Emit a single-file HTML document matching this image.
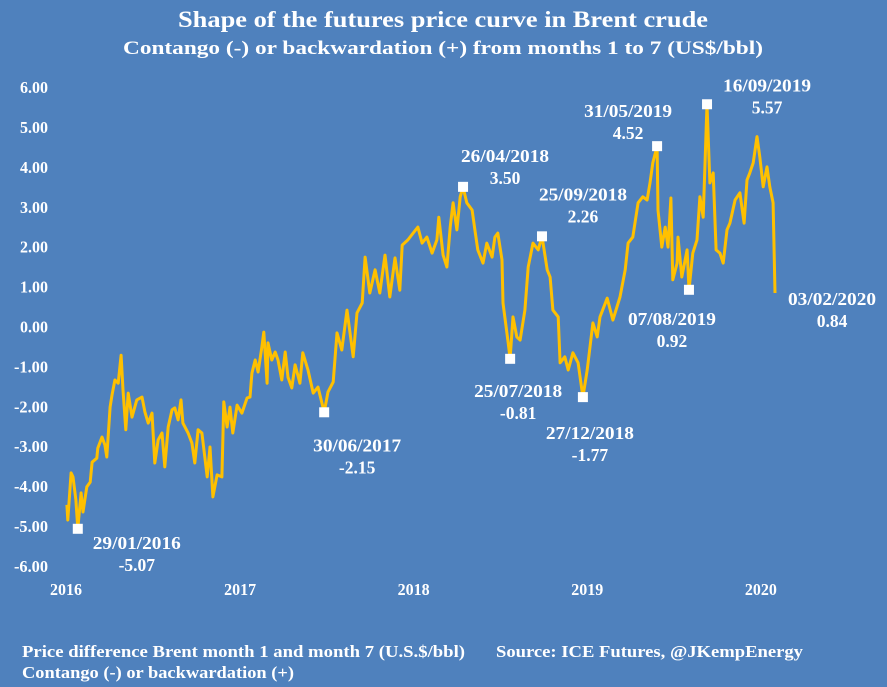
<!DOCTYPE html>
<html><head><meta charset="utf-8">
<style>
html,body{margin:0;padding:0;background:#4F81BD;}
svg{display:block;font-family:"Liberation Serif",serif;font-weight:bold;fill:#fff;}
</style></head>
<body>
<svg id="chart" width="887" height="687" viewBox="0 0 887 687">
<rect width="887" height="687" fill="#4F81BD"/>
<text x="443" y="27" text-anchor="middle" font-size="23" textLength="530" lengthAdjust="spacingAndGlyphs">Shape of the futures price curve in Brent crude</text>
<text x="443" y="54" text-anchor="middle" font-size="19" textLength="640" lengthAdjust="spacingAndGlyphs">Contango (-) or backwardation (+) from months 1 to 7 (US$/bbl)</text>
<g id="yaxis"></g>
<g id="xaxis"></g>
<path id="line" fill="none" stroke="#FFC000" stroke-width="3" stroke-linejoin="round"/>
<g id="annot"></g>
<text x="22" y="657" font-size="16.5" textLength="443" lengthAdjust="spacingAndGlyphs">Price difference Brent month  1 and month 7 (U.S.$/bbl)</text>
<text x="496" y="657" font-size="16.5" textLength="307" lengthAdjust="spacingAndGlyphs">Source:  ICE Futures, @JKempEnergy</text>
<text x="22" y="678" font-size="16.5" textLength="272" lengthAdjust="spacingAndGlyphs">Contango (-) or backwardation (+)</text>
</svg>
<script>
// days since 2016-01-01
const days = [6,8,15,19,25,29,36,40,48,55,59,69,71,80,86,90,97,101,107,114,120,124,130,135,143,153,164,170,177,185,191,198,206,212,219,227,233,240,246,250,261,269,275,282,290,301,307,313,322,332,336,343,349,355,364,374,385,391,395,402,408,416,420,427,429,437,444,450,458,465,471,479,486,496,502,513,524,534,547,555,566,574,584,595,608,616,627,633,643,654,664,675,685,696,706,711,723,734,744,753,763,774,784,788,797,805,812,818,826,833,839,847,858,864,870,881,889,900,906,912,921,923,934,938,944,952,959,969,976,986,997,1005,1016,1022,1028,1039,1043,1053,1060,1070,1081,1091,1100,1112,1121,1127,1142,1154,1169,1180,1186,1196,1207,1217,1226,1232,1238,1247,1249,1257,1264,1270,1276,1280,1289,1291,1299,1310,1314,1322,1331,1337,1344,1352,1358,1365,1371,1379,1386,1394,1400,1411,1421,1430,1436,1442,1449,1457,1463,1470,1478,1484,1491,1495];
const spread = [-4.47,-4.85,-3.67,-3.77,-4.35,-5.07,-4.17,-4.65,-4.02,-3.90,-3.40,-3.30,-3.05,-2.77,-2.97,-3.27,-2.02,-1.72,-1.34,-1.42,-0.72,-1.59,-2.59,-1.67,-2.27,-1.84,-1.77,-2.14,-2.42,-2.17,-3.42,-2.84,-2.67,-3.52,-2.52,-2.09,-2.04,-2.34,-1.84,-2.42,-2.67,-2.92,-3.42,-2.59,-2.67,-3.77,-3.02,-4.27,-3.72,-3.77,-1.89,-2.52,-2.02,-2.67,-1.97,-2.17,-1.79,-1.77,-1.17,-0.84,-1.14,-0.51,-0.14,-1.42,-0.41,-0.84,-0.64,-0.84,-1.34,-0.64,-1.27,-1.54,-0.96,-1.42,-0.66,-1.09,-1.67,-1.52,-2.15,-1.64,-1.39,-0.16,-0.59,0.41,-0.76,0.34,0.59,1.74,0.84,1.42,0.84,1.79,0.74,1.72,0.91,2.04,2.17,2.34,2.49,2.09,2.24,1.84,2.17,2.74,1.79,1.49,2.49,3.10,2.42,3.25,3.50,3.10,2.92,2.42,1.92,1.59,2.09,1.74,2.24,2.34,1.67,0.59,-0.41,-0.81,0.24,-0.26,-0.34,0.41,1.49,2.09,1.92,2.26,1.42,1.24,0.41,0.24,-0.91,-0.76,-1.09,-0.66,-0.91,-1.77,-1.09,0.09,-0.26,0.24,0.71,0.16,0.74,1.42,2.09,2.24,3.10,3.25,3.17,3.60,4.10,4.52,2.92,1.99,2.49,1.99,3.22,1.17,1.59,2.24,1.24,1.92,0.92,1.84,2.17,3.25,2.74,5.57,3.60,3.85,1.92,1.84,1.59,2.42,2.59,3.17,3.35,2.59,3.67,3.85,4.10,4.76,4.25,3.50,4.00,3.50,3.10,0.84];
const yTicks = [6,5,4,3,2,1,0,-1,-2,-3,-4,-5,-6];
const yearLabels = ["2016","2017","2018","2019","2020"];
const yearDays = [0,366,731,1096,1461];
const annDates = ["29/01/2016","30/06/2017","26/04/2018","25/07/2018","25/09/2018","27/12/2018","31/05/2019","07/08/2019","16/09/2019","03/02/2020"];
const annDays = [29,547,839,938,1005,1091,1247,1314,1352,1495];
const annValues = [-5.07,-2.15,3.50,-0.81,2.26,-1.77,4.52,0.92,5.57,0.84];
const annShow = [true,true,true,true,true,true,true,true,true,false];
// label offsets relative to marker (layout only)
const annDx = [59,33,42,8,41,7,-29,-17,60,57];
const annDy = [19,38,-26,37,-37,41,-30,34,-14,11];

const NS="http://www.w3.org/2000/svg";
const X = d => 64 + d*(173.6/365);
const Y = v => 326.5 - v*39.9;
function mk(tag, attrs, parent){const e=document.createElementNS(NS,tag);for(const k in attrs)e.setAttribute(k,attrs[k]);parent.appendChild(e);return e;}

const ya=document.getElementById('yaxis');
yTicks.forEach(t=>{
  const e=mk('text',{x:48,y:Y(t)+6,'text-anchor':'end','font-size':16.5,textLength:(t<0?34:28),lengthAdjust:'spacingAndGlyphs'},ya);
  
  
  e.textContent=t.toFixed(2);
});
const xa=document.getElementById('xaxis');
yearLabels.forEach((l,i)=>{
  const e=mk('text',{x:X(yearDays[i])+2,y:595,'text-anchor':'middle','font-size':17,textLength:32,lengthAdjust:'spacingAndGlyphs'},xa);
  
  
  e.textContent=l;
});
let d='';
days.forEach((dd,i)=>{d+=(i?'L':'M')+X(dd).toFixed(1)+' '+Y(spread[i]).toFixed(1);});
document.getElementById('line').setAttribute('d',d);

const an=document.getElementById('annot');
annDates.forEach((s,i)=>{
  const cx=X(annDays[i]), cy=Y(annValues[i]);
  if(annShow[i]){
    const r=mk('rect',{x:cx-5,y:cy-5,width:10,height:10,fill:'#fff'},an);
    
    
  }
  const lx=cx+annDx[i], ly=cy+annDy[i];
  const t1=mk('text',{x:lx,y:ly+1,'text-anchor':'middle','font-size':17.5,textLength:88,lengthAdjust:'spacingAndGlyphs'},an);
  
  
  t1.textContent=s;
  const t2=mk('text',{x:lx,y:ly+23,'text-anchor':'middle','font-size':17.5},an);
  
  
  t2.textContent=annValues[i].toFixed(2);
});
</script>
</body></html>
